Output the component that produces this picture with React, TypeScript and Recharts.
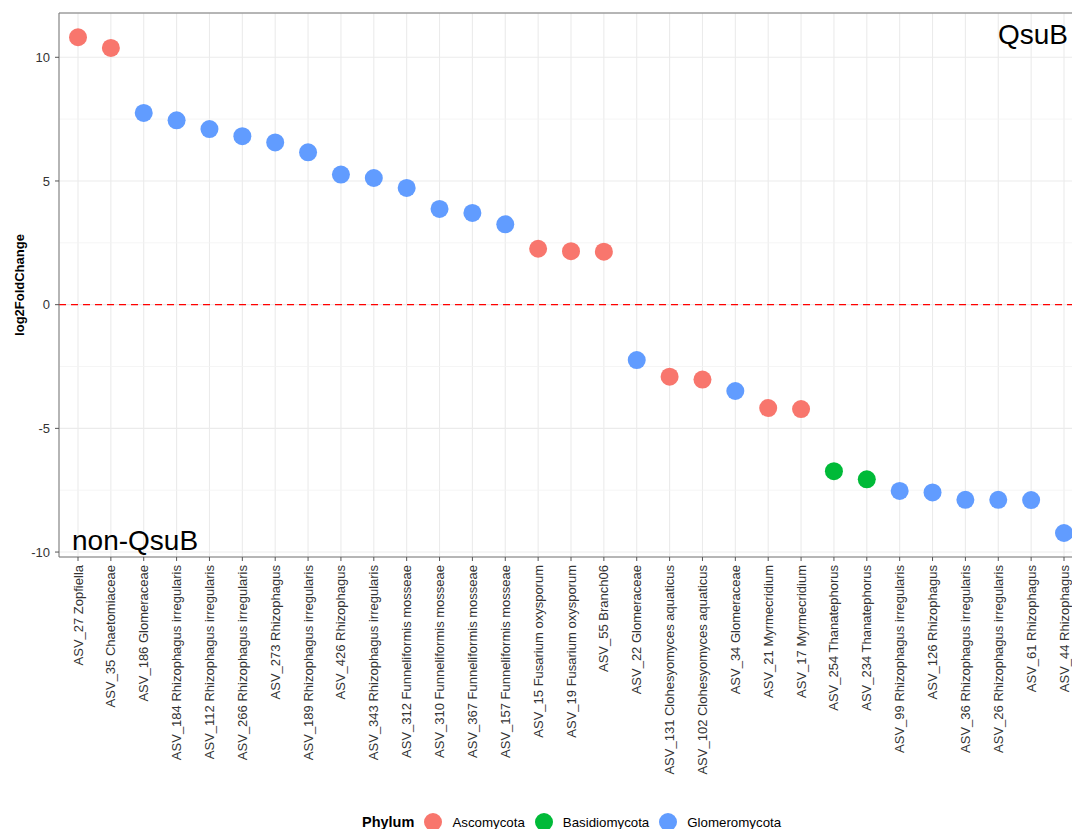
import React from 'react'
import {
  ComposedChart,
  Scatter,
  XAxis,
  YAxis,
  CartesianGrid,
  ReferenceLine,
  Cell
} from 'recharts'

const asvNames = [
  'ASV_27 Zopfiella',
  'ASV_35 Chaetomiaceae',
  'ASV_186 Glomeraceae',
  'ASV_184 Rhizophagus irregularis',
  'ASV_112 Rhizophagus irregularis',
  'ASV_266 Rhizophagus irregularis',
  'ASV_273 Rhizophagus',
  'ASV_189 Rhizophagus irregularis',
  'ASV_426 Rhizophagus',
  'ASV_343 Rhizophagus irregularis',
  'ASV_312 Funneliformis mosseae',
  'ASV_310 Funneliformis mosseae',
  'ASV_367 Funneliformis mosseae',
  'ASV_157 Funneliformis mosseae',
  'ASV_15 Fusarium oxysporum',
  'ASV_19 Fusarium oxysporum',
  'ASV_55 Branch06',
  'ASV_22 Glomeraceae',
  'ASV_131 Clohesyomyces aquaticus',
  'ASV_102 Clohesyomyces aquaticus',
  'ASV_34 Glomeraceae',
  'ASV_21 Myrmecridium',
  'ASV_17 Myrmecridium',
  'ASV_254 Thanatephorus',
  'ASV_234 Thanatephorus',
  'ASV_99 Rhizophagus irregularis',
  'ASV_126 Rhizophagus',
  'ASV_36 Rhizophagus irregularis',
  'ASV_26 Rhizophagus irregularis',
  'ASV_61 Rhizophagus',
  'ASV_44 Rhizophagus'
]

const log2FC = [
  10.81, 10.38, 7.75, 7.45, 7.1, 6.81, 6.56, 6.16, 5.26, 5.12, 4.72, 3.87, 3.71, 3.25,
  2.26, 2.16, 2.14, -2.24, -2.91, -3.03, -3.49, -4.18, -4.22, -6.73, -7.06, -7.53, -7.59,
  -7.89, -7.89, -7.9, -9.23
]

const phylum = [
  'Ascomycota', 'Ascomycota', 'Glomeromycota', 'Glomeromycota', 'Glomeromycota',
  'Glomeromycota', 'Glomeromycota', 'Glomeromycota', 'Glomeromycota', 'Glomeromycota',
  'Glomeromycota', 'Glomeromycota', 'Glomeromycota', 'Glomeromycota', 'Ascomycota',
  'Ascomycota', 'Ascomycota', 'Glomeromycota', 'Ascomycota', 'Ascomycota',
  'Glomeromycota', 'Ascomycota', 'Ascomycota', 'Basidiomycota', 'Basidiomycota',
  'Glomeromycota', 'Glomeromycota', 'Glomeromycota', 'Glomeromycota', 'Glomeromycota',
  'Glomeromycota'
]

const phylumLevels = ['Ascomycota', 'Basidiomycota', 'Glomeromycota']
const yTicks = [-10, -5, 0, 5, 10]
const minorTicks = [-7.5, -2.5, 2.5, 7.5]
const Y_MIN = -10.2
const Y_MAX = 11.79

const COLORS: Record<string, string> = {
  Ascomycota: '#F8766D',
  Basidiomycota: '#00BA38',
  Glomeromycota: '#619CFF'
}

const data = asvNames.map((name, i) => ({ name, value: log2FC[i], phylum: phylum[i] }))

const FONT = '"Liberation Sans", Arial, sans-serif'

// rotated category labels, hanging below the ticks
const XTick = ({ x, y, payload }: any) => (
  <text
    transform={`translate(${x},${y + 2}) rotate(-90)`}
    textAnchor="end"
    dy="0.35em"
    fontSize={13}
    fill="#333"
    fontFamily={FONT}
  >
    {payload.value}
  </text>
)

export default function App() {
  return (
    <div
      style={{
        position: 'fixed',
        top: 0,
        left: 0,
        width: 1072,
        height: 829,
        overflow: 'hidden',
        background: '#fff',
        fontFamily: FONT
      }}
    >
      <ComposedChart
        width={1090}
        height={829}
        data={data}
        margin={{ top: 13, right: 7, bottom: 0, left: 0 }}
      >
        <CartesianGrid stroke="#ebebeb" strokeWidth={1.1} />
        {minorTicks.map((v) => (
          <ReferenceLine key={v} y={v} stroke="#f2f2f2" strokeWidth={0.8} />
        ))}
        <XAxis
          dataKey="name"
          type="category"
          interval={0}
          height={272}
          padding={{ left: 19, right: 19 }}
          tick={<XTick />}
          tickSize={4}
          tickLine={{ stroke: '#555' }}
          axisLine={{ stroke: '#777' }}
        />
        <YAxis
          type="number"
          domain={[Y_MIN, Y_MAX]}
          ticks={yTicks}
          width={59}
          tickSize={4}
          tickMargin={5}
          tick={{ fontSize: 13, fill: '#333', fontFamily: FONT }}
          tickLine={{ stroke: '#555' }}
          axisLine={{ stroke: '#777' }}
          allowDataOverflow
        />
        {/* top edge of the panel border */}
        <ReferenceLine y={Y_MAX} stroke="#777" strokeWidth={1} />
        <ReferenceLine y={0} stroke="#ff0000" strokeWidth={1.4} strokeDasharray="7 5" />
        <Scatter
          dataKey="value"
          isAnimationActive={false}
          shape={(p: any) => <circle cx={p.cx} cy={p.cy} r={9} fill={p.fill} />}
        >
          {data.map((d, i) => (
            <Cell key={i} fill={COLORS[d.phylum]} />
          ))}
        </Scatter>
      </ComposedChart>

      <svg
        width={1072}
        height={829}
        style={{ position: 'absolute', top: 0, left: 0, pointerEvents: 'none' }}
      >
        <text x={1068} y={44} textAnchor="end" fontSize={28} fill="#000" fontFamily={FONT}>
          QsuB
        </text>
        <text x={72} y={550} fontSize={28} fill="#000" fontFamily={FONT}>
          non-QsuB
        </text>
        <text
          transform="translate(19,285) rotate(-90)"
          textAnchor="middle"
          dy="0.35em"
          fontSize={13}
          fontWeight="bold"
          fill="#000"
          fontFamily={FONT}
        >
          log2FoldChange
        </text>
      </svg>

      <div
        style={{
          position: 'absolute',
          left: 362,
          top: 812,
          height: 20,
          display: 'flex',
          alignItems: 'center',
          fontSize: 13.3,
          color: '#000'
        }}
      >
        <span style={{ fontWeight: 'bold', fontSize: 14.5, marginRight: 10 }}>Phylum</span>
        {phylumLevels.map((lv) => (
          <span key={lv} style={{ display: 'flex', alignItems: 'center', marginRight: 10 }}>
            <span
              style={{
                width: 18,
                height: 18,
                borderRadius: 9,
                background: COLORS[lv],
                marginRight: 10,
                display: 'inline-block'
              }}
            />
            {lv}
          </span>
        ))}
      </div>
    </div>
  )
}
